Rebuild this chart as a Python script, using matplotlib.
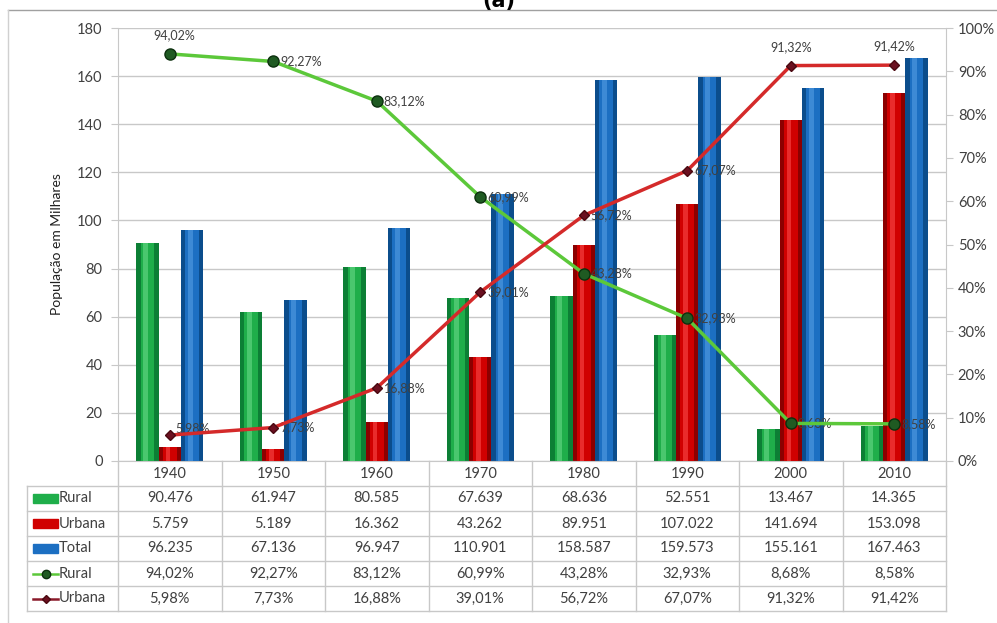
import matplotlib.pyplot as plt
from matplotlib.lines import Line2D
import numpy as np

plt.rcParams['font.family'] = ['Lato', 'DejaVu Sans']

years = ['1940', '1950', '1960', '1970', '1980', '1990', '2000', '2010']
rural = [90.476, 61.947, 80.585, 67.639, 68.636, 52.551, 13.467, 14.365]
urbana = [5.759, 5.189, 16.362, 43.262, 89.951, 107.022, 141.694, 153.098]
total = [96.235, 67.136, 96.947, 110.901, 158.587, 159.573, 155.161, 167.463]
rural_pct = [94.02, 92.27, 83.12, 60.99, 43.28, 32.93, 8.68, 8.58]
urbana_pct = [5.98, 7.73, 16.88, 39.01, 56.72, 67.07, 91.32, 91.42]

W, H = 997, 623
txt = '#404040'
grid = '#c8c8c8'

fig = plt.figure(figsize=(W / 100, H / 100), dpi=100)
left, right, top, bottom = 118, 946, 28, 461
ax = fig.add_axes([left / W, 1 - bottom / H, (right - left) / W, (bottom - top) / H])
x = np.arange(len(years))
w = 0.215


def cyl_bars(ax, xs, h, dark, mid, light):
    # fake the Excel cylinder shading with a few stacked bars
    ax.bar(xs, h, w, color=dark, zorder=2)
    ax.bar(xs, h, w * 0.62, color=mid, zorder=3)
    ax.bar(xs - w * 0.08, h, w * 0.22, color=light, alpha=0.55, zorder=4)


cyl_bars(ax, x - w, rural, '#0c7f35', '#1fae4a', '#6fdc8c')
cyl_bars(ax, x, urbana, '#8c0000', '#d00000', '#ff5050')
cyl_bars(ax, x + w, total, '#0b4d8c', '#1c6fc2', '#5aa2e6')

ax.set_xlim(-0.5, len(years) - 0.5)
ax.set_ylim(0, 180)
ax.set_yticks(range(0, 181, 20))
ax.yaxis.grid(True, color=grid, lw=1)
ax.set_axisbelow(True)
ax.set_xticks([])
ax.tick_params(axis='y', colors=grid, labelcolor=txt, labelsize=10.5, length=5, pad=6)
ax.spines['top'].set_visible(False)
for s in ['left', 'right', 'bottom']:
    ax.spines[s].set_color(grid)
ax.set_ylabel('População em Milhares', fontsize=10, color='#202020', labelpad=10)

ax2 = ax.twinx()
ax2.set_ylim(0, 100)
ax2.set_yticks(range(0, 101, 10))
ax2.set_yticklabels([f'{v}%' for v in range(0, 101, 10)])
ax2.tick_params(axis='y', colors=grid, labelcolor=txt, labelsize=10.5, length=5)
for s in ax2.spines.values():
    s.set_visible(False)

ax2.plot(x, rural_pct, color='#5cc83a', lw=2.5, marker='o', ms=8,
         mfc='#1f5a22', mec='#0c300e', zorder=5)
ax2.plot(x, urbana_pct, color='#d42a2a', lw=2.5, marker='D', ms=5.5,
         mfc='#6b1020', mec='#4a0810', zorder=5)


def pct(v):
    return f'{v:.2f}%'.replace('.', ',')


for i, v in enumerate(rural_pct):
    if i == 0:
        ax2.annotate(pct(v), (i, v), xytext=(3, 9), textcoords='offset points',
                     ha='center', va='bottom', fontsize=9, color=txt)
    else:
        ax2.annotate(pct(v), (i, v), xytext=(5, 0), textcoords='offset points',
                     ha='left', va='center', fontsize=9, color=txt)
for i, v in enumerate(urbana_pct):
    if i >= 6:
        ax2.annotate(pct(v), (i, v), xytext=(0, 9), textcoords='offset points',
                     ha='center', va='bottom', fontsize=9, color=txt)
    elif i == 0:
        ax2.annotate(pct(v), (i, v), xytext=(4, 5), textcoords='offset points',
                     ha='left', va='center', fontsize=9, color=txt)
    else:
        ax2.annotate(pct(v), (i, v), xytext=(5, 0), textcoords='offset points',
                     ha='left', va='center', fontsize=9, color=txt)

# data table under the plot, sharing the category axis
tbot = 611
tax = fig.add_axes([left / W, 1 - tbot / H, (right - left) / W, (tbot - bottom) / H], sharex=ax)
tax.set_ylim(6, 0)
tax.axis('off')
lab_x = -0.5 - (left - 27) / ((right - left) / len(years))

for k in range(len(years) + 1):
    tax.plot([k - 0.5, k - 0.5], [0, 6], color=grid, lw=1, clip_on=False)
tax.plot([lab_x, lab_x], [1, 6], color=grid, lw=1, clip_on=False)
for r in range(1, 7):
    tax.plot([lab_x, len(years) - 0.5], [r, r], color=grid, lw=1, clip_on=False)

rows = [
    ('Rural', [f'{v:.3f}' for v in rural]),
    ('Urbana', [f'{v:.3f}' for v in urbana]),
    ('Total', [f'{v:.3f}' for v in total]),
    ('Rural', [pct(v) for v in rural_pct]),
    ('Urbana', [pct(v) for v in urbana_pct]),
]
for i, yr in enumerate(years):
    tax.text(i, 0.5, yr, ha='center', va='center', fontsize=10.5, color=txt)
for r, (name, vals) in enumerate(rows, start=1):
    for i, s in enumerate(vals):
        tax.text(i, r + 0.5, s, ha='center', va='center', fontsize=10.5, color=txt)
    tax.text(lab_x + 0.31, r + 0.5, name, ha='left', va='center', fontsize=10.5, color=txt)

# legend keys inside the table's first column
keys = [('#1fae4a', None), ('#d00000', None), ('#1c6fc2', None),
        ('#5cc83a', 'o'), ('#d42a2a', 'D')]
for r, (c, m) in enumerate(keys, start=1):
    x0, x1 = lab_x + 0.06, lab_x + 0.30
    if m is None:
        tax.add_patch(plt.Rectangle((x0, r + 0.32), x1 - x0, 0.36, color=c, clip_on=False))
    else:
        tax.add_line(Line2D([x0, x1], [r + 0.5, r + 0.5], color=c if m == 'o' else '#8a1a2a',
                            lw=1.8, clip_on=False))
        tax.add_line(Line2D([(x0 + x1) / 2], [r + 0.5], marker=m, ms=6 if m == 'o' else 4.5,
                            mfc='#1f5a22' if m == 'o' else '#6b1020',
                            mec='#0c300e' if m == 'o' else '#4a0810', clip_on=False))

# outer chart frame and title (cropped at the top, as in the source image)
fig.add_artist(Line2D([8 / W, 1], [1 - 10 / H, 1 - 10 / H], color='#a0a0a0', lw=1))
fig.add_artist(Line2D([8 / W, 8 / W], [0, 1 - 10 / H], color='#d0d0d0', lw=1))
fig.text(0.5, 1 - 1 / H, '(a)', ha='center', va='center', fontsize=15,
         fontweight='bold', family='DejaVu Sans', color='black')

fig.savefig('out.png', dpi=100)
